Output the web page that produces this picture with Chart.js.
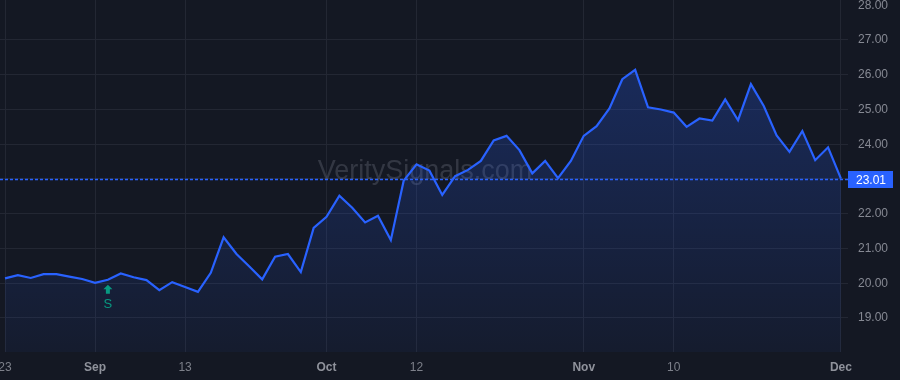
<!DOCTYPE html>
<html>
<head>
<meta charset="utf-8">
<script src="https://cdn.jsdelivr.net/npm/chart.js@4.4.0/dist/chart.umd.min.js"></script>
<style>
  html, body { margin: 0; padding: 0; background: #141823; }
</style>
</head>
<body>
<canvas id="priceChart" width="900" height="380"></canvas>
<script>
// Daily closes (one per trading day)
var priceValues = [20.14, 20.23, 20.15, 20.26, 20.26, 20.19, 20.12, 20.01, 20.10, 20.28,
    20.17, 20.09, 19.80, 20.03, 19.89, 19.75, 20.30, 21.32, 20.84, 20.48,
    20.11, 20.76, 20.84, 20.32, 21.59, 21.91, 22.52, 22.17, 21.75, 21.94,
    21.24, 22.95, 23.42, 23.24, 22.54, 23.08, 23.26, 23.52, 24.11, 24.24,
    23.83, 23.16, 23.52, 23.02, 23.52, 24.24, 24.52, 25.03, 25.87, 26.14,
    25.06, 25.00, 24.91, 24.50, 24.74, 24.68, 25.29, 24.69, 25.73, 25.10,
    24.25, 23.78, 24.38, 23.54, 23.91, 23.01];

// Bottom axis labels and the bar index they sit on
var tickIndex = [0, 7, 14, 25, 32, 45, 52, 65];
var tickLabels = ["23", "Sep", "13", "Oct", "12", "Nov", "10", "Dec"];

// Price axis labels
var priceTicks = [19, 20, 21, 22, 23, 24, 25, 26, 27, 28];

// Signal markers (bar index + letter)
var signalIndex = [8];
var signalText = ["S"];

var lastPrice = priceValues[priceValues.length - 1];

var fontFamily = "'Liberation Sans', Arial, sans-serif";
var lineBlue = "#2962ff";
var signalGreen = "#089981";

// true when the x tick at this value is a month name
function isMonthTick(c) {
    if (!c || !c.tick) return false;
    var t = tickLabels[tickIndex.indexOf(c.tick.value)];
    return t !== undefined && isNaN(t);
}

// Paints the dark background
var bgPlugin = {
    id: "bg",
    beforeDraw: function (chart) {
        var ctx = chart.ctx;
        ctx.save();
        ctx.fillStyle = "#141823";
        ctx.fillRect(0, 0, chart.width, chart.height);
        ctx.restore();
    }
};

// Faint site name in the middle of the plot
var watermarkPlugin = {
    id: "watermark",
    beforeDatasetsDraw: function (chart) {
        var ctx = chart.ctx;
        var a = chart.chartArea;
        ctx.save();
        ctx.font = "27px " + fontFamily;
        ctx.fillStyle = "rgba(170, 175, 190, 0.21)";
        ctx.textAlign = "center";
        ctx.textBaseline = "middle";
        ctx.fillText("VeritySignals.com", (a.left + a.right) / 2 + 1, 172);
        ctx.restore();
    }
};

// Dotted last price line plus the blue label on the price axis
var lastPricePlugin = {
    id: "lastPrice",
    afterDatasetsDraw: function (chart) {
        var ctx = chart.ctx;
        var a = chart.chartArea;
        var y = Math.round(chart.scales.y.getPixelForValue(lastPrice)) + 0.5;
        ctx.save();
        ctx.strokeStyle = lineBlue;
        ctx.lineWidth = 1.5;
        ctx.setLineDash([3, 2]);
        ctx.beginPath();
        ctx.moveTo(a.left, y);
        ctx.lineTo(a.right, y);
        ctx.stroke();
        ctx.setLineDash([]);
        ctx.fillStyle = lineBlue;
        ctx.fillRect(a.right, y - 8.5, 45, 17);
        ctx.fillStyle = "#ffffff";
        ctx.font = "12px " + fontFamily;
        ctx.textAlign = "center";
        ctx.textBaseline = "middle";
        ctx.fillText(lastPrice.toFixed(2), a.right + 23, y + 1);
        ctx.restore();
    }
};

// Green arrow + letter under the bars that had a signal
var signalPlugin = {
    id: "signals",
    afterDatasetsDraw: function (chart) {
        var ctx = chart.ctx;
        ctx.save();
        signalIndex.forEach(function (idx, n) {
            var x = chart.scales.x.getPixelForValue(idx);
            var y = chart.scales.y.getPixelForValue(priceValues[idx]) + 5;
            ctx.fillStyle = signalGreen;
            ctx.beginPath();
            ctx.moveTo(x, y);
            ctx.lineTo(x + 4.5, y + 4.5);
            ctx.lineTo(x + 2, y + 4.5);
            ctx.lineTo(x + 2, y + 9);
            ctx.lineTo(x - 2, y + 9);
            ctx.lineTo(x - 2, y + 4.5);
            ctx.lineTo(x - 4.5, y + 4.5);
            ctx.closePath();
            ctx.fill();
            ctx.font = "13px " + fontFamily;
            ctx.textAlign = "center";
            ctx.textBaseline = "middle";
            ctx.fillText(signalText[n], x, y + 20);
        });
        ctx.restore();
    }
};

var chartCtx = document.getElementById("priceChart").getContext("2d");

new Chart(chartCtx, {
    type: "line",
    data: {
        datasets: [{
            data: priceValues.map(function (v, i) { return { x: i, y: v }; }),
            borderColor: lineBlue,
            borderWidth: 2.2,
            pointRadius: 0,
            tension: 0,
            fill: "start",
            backgroundColor: function (context) {
                var a = context.chart.chartArea;
                if (!a) return "rgba(41, 98, 255, 0.15)";
                var g = context.chart.ctx.createLinearGradient(0, a.top, 0, a.bottom);
                g.addColorStop(0, "rgba(41, 98, 255, 0.30)");
                g.addColorStop(1, "rgba(41, 98, 255, 0.05)");
                return g;
            }
        }]
    },
    options: {
        responsive: false,
        animation: false,
        maintainAspectRatio: false,
        devicePixelRatio: 1,
        layout: { padding: 0 },
        plugins: {
            legend: { display: false },
            tooltip: { enabled: false }
        },
        scales: {
            x: {
                type: "linear",
                min: -0.39,
                max: 65.55,
                border: { display: false },
                grid: { color: "#232733", drawTicks: false },
                afterBuildTicks: function (scale) {
                    scale.ticks = tickIndex.map(function (v) { return { value: v }; });
                },
                afterFit: function (scale) {
                    scale.height = 28;
                    scale.paddingLeft = 0;
                    scale.paddingRight = 0;
                },
                ticks: {
                    autoSkip: false,
                    maxRotation: 0,
                    padding: 8,
                    color: function (c) {
                        return isMonthTick(c) ? "#8f929b" : "#7d808a";
                    },
                    font: function (c) {
                        return { family: fontFamily, size: 12, weight: isMonthTick(c) ? "bold" : "normal" };
                    },
                    callback: function (value) {
                        var i = tickIndex.indexOf(value);
                        return i < 0 ? "" : tickLabels[i];
                    }
                }
            },
            y: {
                position: "right",
                min: 18.02,
                max: 28.15,
                border: { display: false },
                grid: {
                    drawTicks: false,
                    color: function (c) {
                        return c.tick && c.tick.value === 28 ? "rgba(0,0,0,0)" : "#232733";
                    }
                },
                afterBuildTicks: function (scale) {
                    scale.ticks = priceTicks.map(function (v) { return { value: v }; });
                },
                afterFit: function (scale) {
                    scale.width = 52;
                    scale.paddingTop = 0;
                    scale.paddingBottom = 0;
                },
                ticks: {
                    padding: 10,
                    color: "#868993",
                    font: { family: fontFamily, size: 12 },
                    callback: function (value) { return Number(value).toFixed(2); }
                }
            }
        }
    },
    plugins: [bgPlugin, watermarkPlugin, lastPricePlugin, signalPlugin]
});
</script>
</body>
</html>
